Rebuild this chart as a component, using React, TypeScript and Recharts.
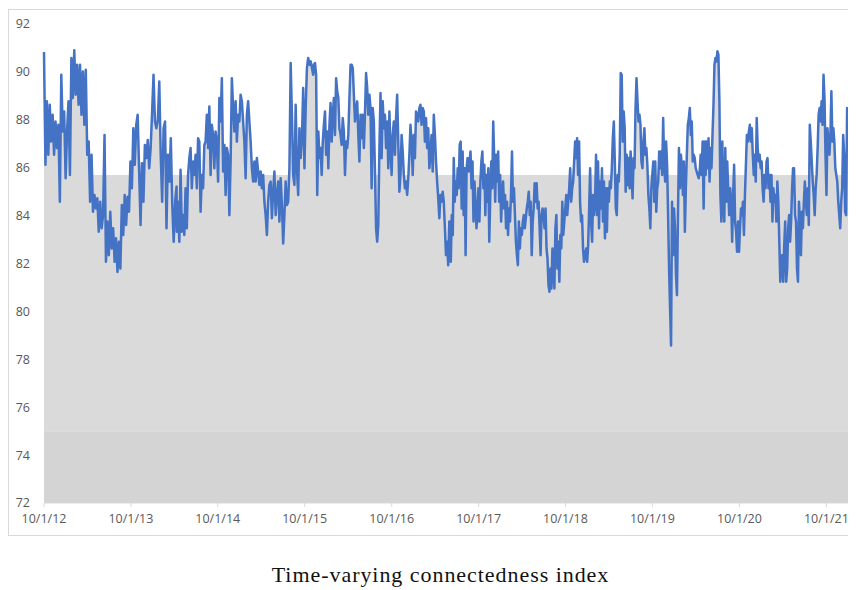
import { ComposedChart, Area, XAxis, YAxis, ReferenceArea } from 'recharts';

// connectedness index in six consecutive stretches
const stretch1 = [
  90.83, 86.12, 88.77, 86.54, 88.63, 87.09, 88.21, 86.54, 87.93, 86.82, 87.79, 84.58, 89.88, 87.51, 88.35, 85.56,
  87.51, 88.77, 85.7, 90.58, 88.91, 90.9, 89.05, 90.3, 88.63, 90.3, 88.21, 90.02, 87.79, 90.09, 86.54, 87.09,
  84.58, 86.54, 84.16, 84.86, 84.3, 84.72, 83.33, 84.58, 83.47, 84.02, 87.37, 82.07, 83.75, 82.35, 84.16, 82.63,
  83.47, 82.07, 83.05, 81.65, 82.91, 81.79, 84.44, 83.19, 84.86, 83.61, 84.79, 84.16, 86.26, 85.14, 87.65, 86.12,
  87.79, 88.21, 85.9, 83.61, 86.19, 84.58, 86.95, 86.4, 87.16, 85.98, 86.82, 88.28, 89.88, 87.93, 87.65, 88.0,
  89.6, 86.54, 84.58, 87.65, 87.93, 83.47, 86.54, 85.42, 87.23, 84.44, 82.91, 84.58, 85.21,
];
const stretch2 = [
  83.33, 84.58, 82.91, 85.91, 83.33, 84.02, 83.19, 85.14, 83.47, 85.7, 86.4, 86.82, 85.14, 86.26, 85.7, 86.54,
  85.14, 87.23, 87.09, 84.16, 85.7, 85.14, 86.95, 87.09, 88.21, 86.82, 88.56, 85.7, 87.79, 87.37, 85.98, 87.51,
  87.09, 85.42, 88.91, 87.93, 89.74, 85.84, 86.95, 84.86, 86.82, 86.54, 84.02, 86.26, 89.74, 88.49, 87.51, 88.77,
  87.09, 88.21, 87.93, 89.05, 88.77, 87.93, 87.09, 85.56, 88.21, 88.77, 87.93, 87.09, 85.98, 85.42, 86.26, 85.42,
  86.4, 85.84, 85.28, 85.84, 85.14, 85.7, 84.58, 84.02, 83.19, 84.58, 85.28, 85.42, 83.89, 85.0, 85.84, 84.02,
  84.86, 85.42, 83.75, 85.56, 84.44, 82.84, 84.02, 85.42, 84.44, 84.58, 85.98, 90.37, 88.21, 85.7, 85.28, 88.63,
  85.98, 84.86, 87.65, 86.4, 87.23, 89.33, 85.98, 88.49, 90.16, 90.58, 90.3, 90.44, 90.16, 89.88,
];
const stretch3 = [
  90.3, 90.37, 89.88, 84.86, 87.51, 86.4, 86.82, 85.7, 87.09, 87.79, 88.35, 86.54, 87.51, 85.98, 87.79, 88.7,
  87.09, 88.21, 88.91, 87.37, 89.74, 89.19, 88.91, 87.65, 87.37, 86.95, 88.07, 87.51, 85.7, 87.09, 86.82, 87.37,
  88.91, 90.3, 90.3, 90.16, 89.05, 87.93, 88.49, 88.77, 87.37, 86.26, 88.21, 87.23, 88.21, 86.82, 88.21, 89.95,
  89.33, 88.21, 89.05, 88.49, 85.14, 88.49, 87.93, 85.84, 83.47, 82.91, 83.61, 86.82, 89.12, 86.4, 88.77, 87.65,
  88.21, 86.82, 87.93, 85.98, 88.35, 86.82, 85.7, 87.37, 87.93, 86.54, 88.07, 89.05, 87.09, 85.0, 85.7, 87.37,
  86.68, 85.7, 85.14, 85.42, 84.86, 85.56, 86.54, 87.79, 87.09, 85.7, 87.37, 86.4, 88.35, 88.21, 87.93, 88.49,
  88.63, 87.79, 88.49, 88.35, 87.09, 88.07, 86.82, 87.65, 85.98, 86.54, 87.37, 85.84, 88.21, 87.37, 86.26, 85.42,
  84.72, 83.89, 84.86, 84.58, 85.0, 84.58, 83.47, 82.35, 82.91, 81.93, 83.75,
];
const stretch4 = [
  83.75, 82.07, 84.02, 83.19, 86.4, 84.58, 85.42, 84.86, 85.98, 85.14, 86.95, 87.09, 84.3, 86.68, 84.02, 85.98,
  82.35, 85.98, 86.4, 85.84, 86.26, 86.68, 85.14, 86.26, 83.75, 85.42, 84.58, 83.47, 84.02, 85.14, 83.75, 85.42,
  86.26, 86.68, 85.14, 86.12, 84.02, 85.7, 84.58, 85.98, 82.91, 84.86, 86.26, 85.14, 87.93, 86.4, 84.58, 86.54,
  85.42, 86.68, 84.58, 85.7, 83.75, 84.86, 85.42, 84.3, 84.86, 83.47, 84.58, 83.19, 84.3, 83.75, 84.86, 86.68,
  84.58, 85.14, 84.02, 82.91, 82.35, 81.93, 83.75, 82.63, 83.47, 83.19, 83.75, 84.02, 83.47, 83.89, 84.3, 84.58,
  85.0, 84.02, 84.58, 82.35, 83.75, 84.3, 85.35, 84.58, 85.35, 84.3, 84.58, 83.47, 82.35, 84.02, 84.3, 84.02,
  83.47, 84.3, 82.63, 82.21, 81.1, 80.82, 81.79, 80.96, 82.63, 81.79, 80.96, 83.47, 84.02, 81.79, 82.91, 81.24,
  83.19, 82.63, 84.58, 83.19, 83.75, 84.3, 84.86, 84.02, 84.58, 85.14, 85.98, 84.58, 85.14, 85.42, 86.26, 87.09,
  86.4, 87.23, 85.7, 87.09, 84.58, 83.75, 84.02, 82.63, 82.07, 82.35,
];
const stretch5 = [
  82.63, 82.07, 82.77, 84.3, 85.98, 83.75, 82.91, 84.86, 84.02, 84.58, 86.54, 84.02, 86.26, 83.47, 85.42, 84.3,
  85.98, 83.75, 85.42, 83.05, 85.14, 83.33, 85.14, 84.58, 85.42, 85.14, 85.98, 87.23, 87.93, 86.26, 84.3, 84.02,
  85.7, 85.42, 86.54, 89.95, 89.88, 87.09, 88.35, 87.65, 85.0, 86.54, 85.28, 86.4, 85.14, 86.68, 85.7, 84.72,
  86.4, 85.98, 88.49, 89.74, 88.77, 87.93, 88.21, 87.79, 86.26, 85.98, 87.09, 87.65, 86.54, 86.82, 86.12, 84.86,
  84.3, 83.47, 85.14, 85.7, 86.26, 84.58, 86.26, 84.16, 85.14, 85.42, 86.68, 85.98, 86.68, 85.7, 88.07, 86.26,
  85.42, 87.09, 86.12, 84.02, 81.79, 80.12, 78.58, 84.58, 82.35, 84.3, 83.47, 81.51, 80.68, 84.02, 86.82, 85.14,
  86.54, 85.98, 84.86, 86.26, 83.33, 85.14, 86.54, 87.79, 88.07, 88.49, 87.37, 87.93, 86.26, 86.54, 86.4, 85.98,
  85.84, 85.7, 85.56, 85.84, 86.54, 85.7, 87.09, 84.3, 87.09, 85.7, 87.09, 85.98, 87.23, 85.42, 86.82, 85.98,
  87.37, 88.63, 90.3, 90.58, 90.44, 90.86, 90.72, 88.77, 84.86, 83.75,
];
const stretch6 = [
  87.09, 84.58, 83.75, 86.82, 84.58, 86.26, 85.0, 84.02, 85.14, 84.58, 82.91, 84.86, 86.12, 83.75, 83.33, 82.49,
  83.75, 82.49, 83.47, 84.3, 84.02, 84.58, 83.19, 84.86, 86.12, 87.37, 87.09, 87.51, 87.79, 87.09, 87.65, 86.54,
  85.7, 86.54, 85.42, 88.07, 86.82, 86.26, 86.54, 85.98, 86.26, 85.14, 84.58, 85.7, 85.14, 86.26, 86.4, 85.14,
  85.7, 84.58, 85.7, 83.75, 85.14, 84.58, 84.86, 83.75, 85.42, 84.58, 82.91, 81.24, 82.07, 82.35, 81.24, 82.77,
  83.75, 81.24, 81.79, 83.47, 84.02, 82.91, 83.75, 85.14, 85.98, 85.98, 84.02, 83.75, 81.79, 81.24, 84.58, 83.75,
  82.35, 84.16, 83.47, 84.58, 85.42, 84.58, 84.02, 85.14, 83.61, 87.79, 87.09, 86.26, 85.42, 84.86, 84.02, 85.14,
  85.7, 86.82, 88.21, 88.49, 87.93, 88.77, 87.79, 89.88, 88.91, 86.54, 84.86, 87.65, 87.09, 86.54, 87.37, 89.19,
  87.09, 87.65, 87.09, 85.98, 85.7, 85.42, 84.58, 84.02, 83.47, 84.58, 85.14, 87.37, 86.54, 84.16, 84.02, 88.49,
  88.21, 88.07, 88.21, 87.65, 87.37, 87.09,
];

// date span covered by each stretch
const stretchStarts = ['2012-10-01', '2014-04-12', '2015-11-09', '2017-06-02', '2018-12-27', '2020-07-21'];
const stretchEnds = ['2014-04-11', '2015-11-06', '2017-05-31', '2018-12-22', '2020-07-17', '2022-01-21'];
const stretches = [stretch1, stretch2, stretch3, stretch4, stretch5, stretch6];

const yTicks = [72, 74, 76, 78, 80, 82, 84, 86, 88, 90, 92];
const tickYears = [2012, 2013, 2014, 2015, 2016, 2017, 2018, 2019, 2020, 2021];

const data: { t: number; v: number }[] = [];
stretches.forEach((vals, s) => {
  const a = Date.parse(stretchStarts[s]);
  const b = Date.parse(stretchEnds[s]);
  vals.forEach((v, i) => {
    data.push({ t: a + ((b - a) * i) / (vals.length - 1), v });
  });
});

const xTicks = tickYears.map((y) => Date.UTC(y, 9, 1));
const fmtDate = (t: number) => {
  const d = new Date(t);
  return `${d.getUTCMonth() + 1}/${d.getUTCDate()}/${String(d.getUTCFullYear()).slice(2)}`;
};

const axisFont = { fill: '#595959', fontSize: 12.5, fontFamily: 'Open Sans, sans-serif' };

export default function App() {
  return (
    <div style={{ width: 840 }}>
      <div
        style={{
          position: 'relative',
          top: 1,
          width: 846,
          height: 527,
          border: '1px solid #d9d9d9',
          boxSizing: 'border-box',
          background: '#fff',
        }}
      >
        <ComposedChart
          width={844}
          height={525}
          data={data}
          margin={{ top: 14, right: 0, left: 0, bottom: 0 }}
        >
          <XAxis
            dataKey="t"
            type="number"
            scale="linear"
            domain={[data[0].t, data[data.length - 1].t]}
            ticks={xTicks}
            tickFormatter={fmtDate}
            tick={axisFont}
            tickSize={4}
            tickMargin={7}
            height={32}
            axisLine={{ stroke: '#d9d9d9' }}
            tickLine={{ stroke: '#d9d9d9' }}
          />
          <YAxis
            domain={[72, 92]}
            ticks={yTicks}
            allowDataOverflow
            tick={axisFont}
            tickSize={0}
            tickMargin={14}
            width={35}
            axisLine={false}
            tickLine={false}
          />
          <ReferenceArea y1={75} y2={85.7} fill="#dadada" fillOpacity={1} stroke="none" />
          <ReferenceArea y1={72} y2={75} fill="#d4d4d4" fillOpacity={1} stroke="none" />
          <Area
            type="linear"
            dataKey="v"
            baseValue={75}
            stroke="#4472c4"
            strokeWidth={2.5}
            strokeLinejoin="round"
            fill="#dadada"
            fillOpacity={1}
            dot={false}
            activeDot={false}
            isAnimationActive={false}
          />
        </ComposedChart>
      </div>
      <div
        style={{
          marginTop: 27,
          textAlign: 'center',
          width: 865,
          fontFamily: 'Liberation Serif, serif',
          fontSize: 22,
          letterSpacing: 0.95,
          color: '#111',
        }}
      >
        Time-varying connectedness index
      </div>
    </div>
  );
}
